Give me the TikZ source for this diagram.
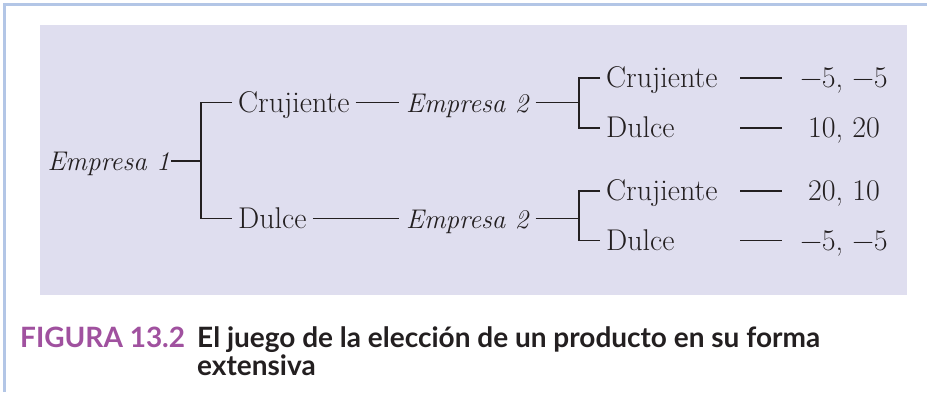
\documentclass[tikz,border=0pt]{standalone}
\usepackage{fontspec}
\newfontfamily\capfont{Lato}
\usepackage{tikz}
\usetikzlibrary{positioning,calc}
\definecolor{framecol}{HTML}{B3C6E6}
\definecolor{panelcol}{HTML}{DFDEEF}
\definecolor{figpurple}{HTML}{A0519F}
\definecolor{inkdark}{HTML}{231F20}

\begin{document}
\begin{tikzpicture}[x=1pt, y=-1pt,
  lbl/.style={inner xsep=6pt, inner ysep=0pt, text height=24pt, text depth=5pt, font=\fontsize{30}{34}\selectfont, text=inkdark},
  firm/.style={lbl, inner xsep=7pt, font=\fontsize{27}{32}\selectfont\itshape},
  leaf/.style={lbl, anchor=west, text width=128pt, align=left},
  pay/.style={lbl, inner xsep=0pt, minimum width=124pt},
  branch/.style={draw=inkdark, line width=1.2pt},
  capt/.style={anchor=base west, inner sep=0pt, font=\capfont\bfseries\fontsize{28}{30}\selectfont}]
\useasboundingbox (0,0) rectangle (927,392);
\fill[white] (0,0) rectangle (927,392);
\draw[framecol, line width=3pt] (4.5,392) -- (4.5,4.5) -- (927,4.5);
\fill[panelcol] (40,25) rectangle (907,295);

\node[firm, anchor=east, inner xsep=1pt] (e1) at (171,161) {Empresa 1};
\coordinate (f1) at (201,161);
\node[lbl, anchor=west] (c1) at (232,102.5) {Crujiente};
\node[lbl, anchor=west] (d1) at (232,218.5) {Dulce};
\node[firm, anchor=west] (e2a) at (399,102.5) {Empresa 2};
\node[firm, anchor=west] (e2b) at (399,218.5) {Empresa 2};

\coordinate (f2a) at (579,102.5);
\coordinate (f2b) at (579,218.5);
\node[leaf] (c2a) at (600,78) {Crujiente};
\node[leaf] (d2a) at (600,128) {Dulce};
\node[leaf] (c2b) at (600,191) {Crujiente};
\node[leaf] (d2b) at (600,240.5) {Dulce};

\node[pay] (p1) at (844,78) {−5, −5};
\node[pay] (p2) at (844,128) {10, 20};
\node[pay] (p3) at (844,191) {20, 10};
\node[pay] (p4) at (844,240.5) {−5, −5};

\draw[branch] (e1.east) -- (f1);
\draw[branch] (c1.west) -| (f1) |- (d1.west);
\draw[branch] (c1.east) -- (e2a.west);
\draw[branch] (d1.east) -- (e2b.west);
\draw[branch] (e2a.east) -- (f2a);
\draw[branch] (e2b.east) -- (f2b);
\draw[branch] (c2a.west) -| (f2a) |- (d2a.west);
\draw[branch] (c2b.west) -| (f2b) |- (d2b.west);
\draw[branch] (c2a.east) -- (p1.west);
\draw[branch] (d2a.east) -- (p2.west);
\draw[branch] (c2b.east) -- (p3.west);
\draw[branch] (d2b.east) -- (p4.west);

\node[capt, text=figpurple] (fig) at (20,347) {FIGURA 13.2};
\node[capt, text=inkdark] (cap1) at (197,347) {El juego de la elección de un producto en su forma};
\node[capt, text=inkdark] (cap2) at (197,375) {extensiva};
\end{tikzpicture}
\end{document}
